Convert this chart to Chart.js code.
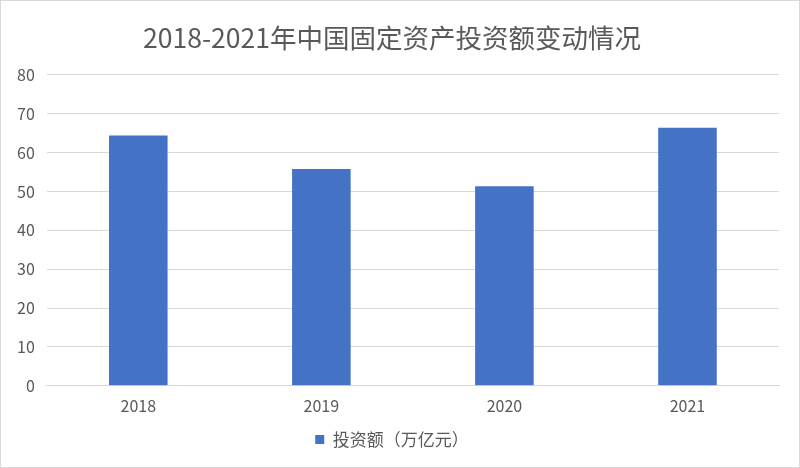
<!DOCTYPE html>
<html lang="zh">
<head>
<meta charset="UTF-8">
<title>2018-2021年中国固定资产投资额变动情况</title>
<script src="https://cdn.jsdelivr.net/npm/chart.js@4.4.0/dist/chart.umd.min.js"></script>
<style>
    html, body { margin: 0; padding: 0; background: #fff; }
    .box {
        width: 798px;
        height: 466px;
        border: 1px solid #d9d9d9;
        position: relative;
    }
</style>
</head>
<body>
<div class="box"><canvas id="chart"></canvas></div>
<script>
const years = ['2018', '2019', '2020', '2021'];
const investment = [64.4, 55.8, 51.3, 66.4];
const seriesName = '投资额（万亿元）';
const titleText = '2018-2021年中国固定资产投资额变动情况';

const font = "'Noto Sans CJK SC', 'Noto Sans', sans-serif";
Chart.defaults.font.family = font;
Chart.defaults.color = '#595959';

new Chart(document.getElementById('chart'), {
    type: 'bar',
    data: {
        labels: years,
        datasets: [{
            label: seriesName,
            data: investment,
            backgroundColor: '#4472c4',
            categoryPercentage: 1,
            barPercentage: 0.32
        }]
    },
    options: {
        responsive: true,
        maintainAspectRatio: false,
        animation: false,
        layout: { padding: { left: 4, right: 20, top: 6, bottom: 9 } },
        plugins: {
            title: {
                display: true,
                text: titleText,
                font: { size: 26.5, weight: 'normal' },
                color: '#595959',
                padding: { top: 15, bottom: 21 }
            },
            legend: {
                position: 'bottom',
                labels: {
                    boxWidth: 9,
                    boxHeight: 9,
                    font: { size: 17 },
                    color: '#595959',
                    padding: 12
                }
            },
            tooltip: { enabled: false }
        },
        scales: {
            x: {
                grid: { display: false },
                border: { color: '#d9d9d9' },
                ticks: { font: { size: 16 }, color: '#595959', padding: 3 }
            },
            y: {
                min: 0,
                max: 80,
                ticks: { stepSize: 10, font: { size: 16 }, color: '#595959', padding: 12 },
                grid: { color: '#d9d9d9', drawTicks: false },
                border: { display: false }
            }
        }
    }
});
</script>
</body>
</html>
